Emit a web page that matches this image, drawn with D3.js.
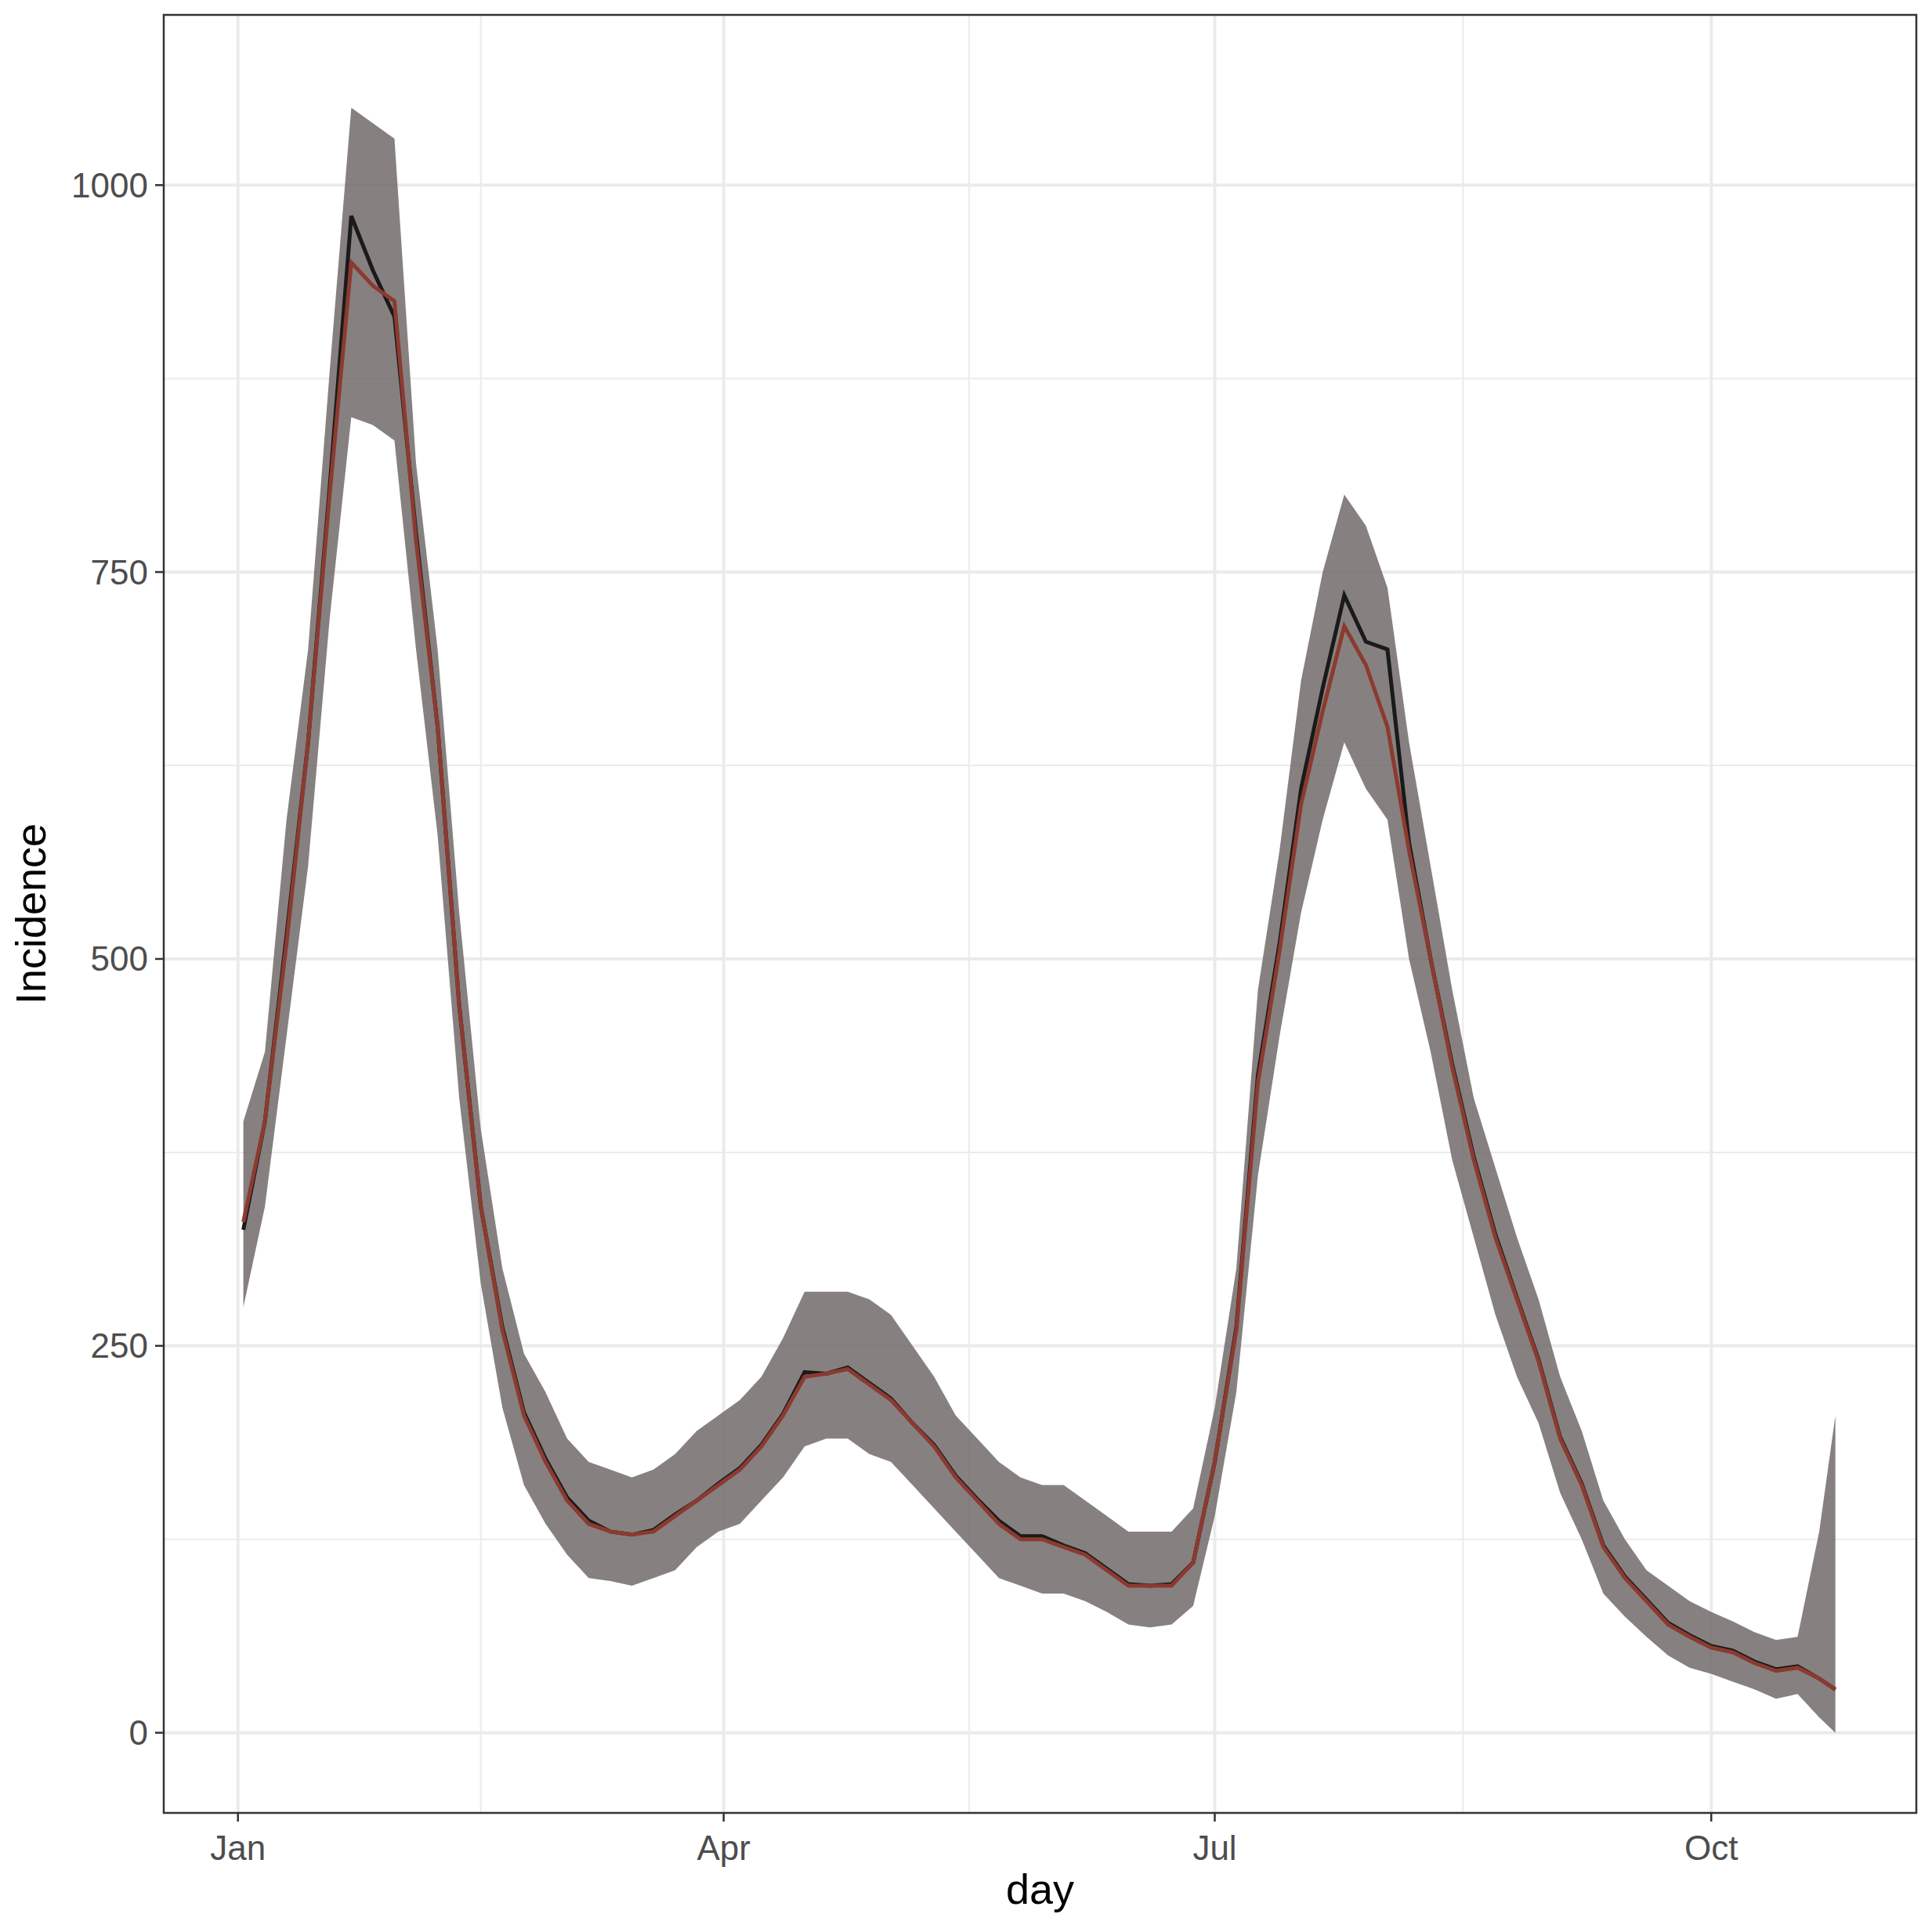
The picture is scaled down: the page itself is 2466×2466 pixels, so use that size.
<!DOCTYPE html>
<html><head><meta charset="utf-8">
<script src="https://cdn.jsdelivr.net/npm/d3@7"></script>
<style>body{margin:0;background:#fff}svg{display:block}</style>
</head><body>
<script>
// day-of-year offsets (from 2021-01-01)
const days = [1,5,9,13,17,21,25,29,33,37,41,45,49,53,57,61,65,69,73,77,81,85,89,93,97,101,105,109,113,117,121,125,129,133,137,141,145,149,153,157,161,165,169,173,177,181,185,189,193,197,201,205,209,213,217,221,225,229,233,237,241,245,249,253,257,261,265,269,273,277,281,285,289,293,296];
const median = [330,395,510,640,800,950,935,925,770,650,470,340,260,205,175,150,135,130,128,130,140,150,160,170,185,205,230,232,235,225,215,200,185,165,150,135,125,125,120,115,105,95,95,95,110,175,260,420,505,600,660,715,690,650,570,500,430,370,320,280,240,190,160,120,100,85,70,62,55,52,45,40,42,35,28];
const observed = [325,395,515,640,805,980,945,915,775,650,470,340,262,207,177,152,137,130,128,131,141,150,161,171,186,206,233,232,236,226,216,200,186,166,151,137,127,127,121,116,106,96,95,96,110,175,262,425,510,610,675,735,705,700,575,500,432,372,322,281,241,191,161,121,101,86,71,63,56,53,46,41,43,35,28];
const lower = [275,340,450,560,720,850,845,835,700,580,410,290,210,160,135,115,100,98,95,100,105,120,130,135,150,165,185,190,190,180,175,160,145,130,115,100,95,90,90,85,78,70,68,70,82,140,220,360,450,530,590,640,610,590,500,440,370,320,270,230,200,155,125,90,75,62,50,42,38,33,28,22,25,10,0];
const upper = [395,440,590,700,880,1050,1040,1030,820,700,530,390,300,245,220,190,175,170,165,170,180,195,205,215,230,255,285,285,285,280,270,250,230,205,190,175,165,160,160,150,140,130,130,130,145,210,300,480,570,680,750,800,780,740,640,560,480,410,365,320,280,230,195,150,125,105,95,85,78,72,65,60,62,130,205];
const yTicks = [0,250,500,750,1000];
const xTickLabels = ["Jan","Apr","Jul","Oct"];

const W=2466,H=2466, L=209,R=2446,T=19,B=2314;
const toDate = d => new Date(2021,0,1+d);
const svg=d3.select("body").append("svg").attr("width",W).attr("height",H);
const x=d3.scaleTime().domain([new Date(2020,11,18,6), new Date(2021,10,8)]).range([L,R]);
const y=d3.scaleLinear().domain([-51.8,1110]).range([B,T]);
const majors=[new Date(2021,0,1),new Date(2021,3,1),new Date(2021,6,1),new Date(2021,9,1)];
const minorsX=[]; for(let i=0;i<3;i++) minorsX.push(new Date((+majors[i]+ +majors[i+1])/2));
const g=svg.append("g");
const fontF="'Liberation Sans', Arial, sans-serif";
[125,375,625,875].forEach(v=>g.append("line").attr("x1",L).attr("x2",R).attr("y1",y(v)).attr("y2",y(v)).attr("stroke","#ebebeb").attr("stroke-width",2));
minorsX.forEach(d=>g.append("line").attr("x1",x(d)).attr("x2",x(d)).attr("y1",T).attr("y2",B).attr("stroke","#ebebeb").attr("stroke-width",2));
yTicks.forEach(v=>g.append("line").attr("x1",L).attr("x2",R).attr("y1",y(v)).attr("y2",y(v)).attr("stroke","#ebebeb").attr("stroke-width",4));
majors.forEach(d=>g.append("line").attr("x1",x(d)).attr("x2",x(d)).attr("y1",T).attr("y2",B).attr("stroke","#ebebeb").attr("stroke-width",4));

const area=d3.area().x((d,i)=>x(toDate(days[i]))).y0((d,i)=>y(lower[i])).y1((d,i)=>y(upper[i]));
g.append("path").datum(days).attr("d",area).attr("fill","#716b6a").attr("fill-opacity",0.85);
const line=arr=>d3.line().x((d,i)=>x(toDate(days[i]))).y((d,i)=>y(arr[i]))(days);
g.append("path").attr("d",line(observed)).attr("fill","none").attr("stroke","#1a1a1a").attr("stroke-width",5);
g.append("path").attr("d",line(median)).attr("fill","none").attr("stroke","#8c3a30").attr("stroke-width",5);

g.append("rect").attr("x",L).attr("y",T).attr("width",R-L).attr("height",B-T).attr("fill","none").attr("stroke","#333").attr("stroke-width",2.5);
yTicks.forEach(v=>{
  g.append("line").attr("x1",L-11).attr("x2",L).attr("y1",y(v)).attr("y2",y(v)).attr("stroke","#333").attr("stroke-width",2.5);
  g.append("text").attr("x",L-20).attr("y",y(v)).attr("dy","0.35em").attr("text-anchor","end").attr("font-family",fontF).attr("font-size",44).attr("fill","#4d4d4d").text(v);
});
majors.forEach((d,i)=>{
  g.append("line").attr("x1",x(d)).attr("x2",x(d)).attr("y1",B).attr("y2",B+11).attr("stroke","#333").attr("stroke-width",2.5);
  g.append("text").attr("x",x(d)).attr("y",B+60).attr("text-anchor","middle").attr("font-family",fontF).attr("font-size",44).attr("fill","#4d4d4d").text(xTickLabels[i]);
});
svg.append("text").attr("x",(L+R)/2).attr("y",2430).attr("text-anchor","middle").attr("font-family",fontF).attr("font-size",54).attr("fill","#000").text("day");
svg.append("text").attr("transform",`translate(58,${(T+B)/2}) rotate(-90)`).attr("text-anchor","middle").attr("font-family",fontF).attr("font-size",54).attr("fill","#000").text("Incidence");
</script>
</body></html>
